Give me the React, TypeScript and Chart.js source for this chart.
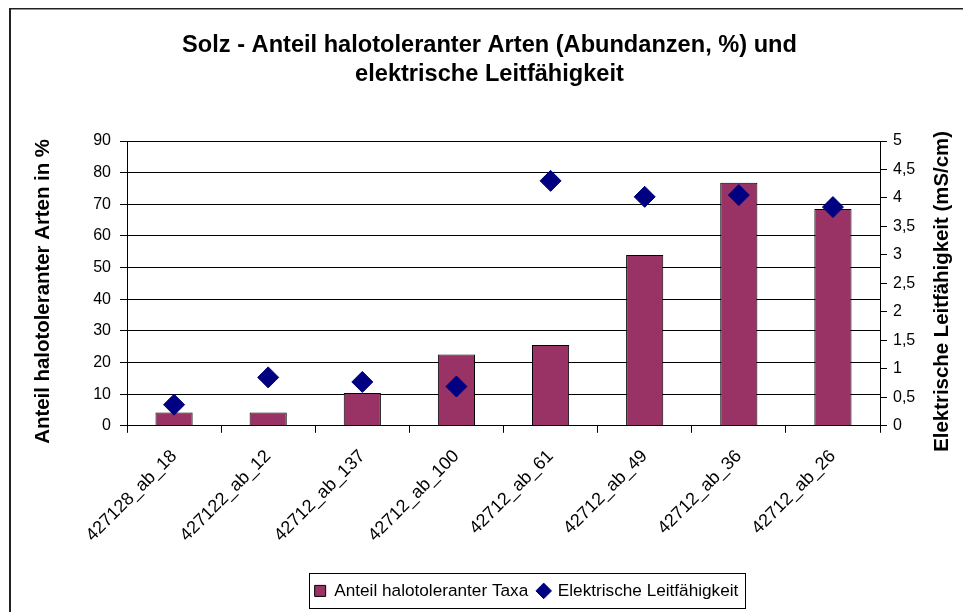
import React, { useEffect, useRef } from 'react';
import { Chart, registerables } from 'chart.js';

Chart.register(...registerables);

const categories = [
  '427128_ab_18',
  '427122_ab_12',
  '42712_ab_137',
  '42712_ab_100',
  '42712_ab_61',
  '42712_ab_49',
  '42712_ab_36',
  '42712_ab_26',
];
const halotolerantShare = [4.2, 4.2, 10.4, 22.5, 25.5, 54, 76.8, 68.5];
const conductivity = [0.37, 0.85, 0.77, 0.69, 4.3, 4.02, 4.05, 3.84];

const titleLines = ['Solz - Anteil halotoleranter Arten (Abundanzen, %) und', 'elektrische Leitfähigkeit'];
const leftAxisTitle = 'Anteil halotoleranter Arten in %';
const rightAxisTitle = 'Elektrische Leitfähigkeit (mS/cm)';
const barLabel = 'Anteil halotoleranter Taxa';
const pointLabel = 'Elektrische Leitfähigkeit';

const W = 963;
const H = 604;
const FONT = '"Liberation Sans", Arial, Helvetica, sans-serif';

export default function App() {
  const ref = useRef<HTMLCanvasElement>(null);

  useEffect(() => {
    document.documentElement.style.overflow = 'hidden';
    document.body.style.overflow = 'hidden';
    Chart.defaults.font.family = FONT;

    const decor = {
      id: 'decor',
      afterLayout(chart: any) {
        if (chart.legend) {
          chart.legend.left += 37;
          chart.legend.right += 37;
        }
      },
      beforeDraw(chart: any) {
        const c = chart.ctx;
        c.save();
        c.fillStyle = '#fff';
        c.fillRect(0, 0, chart.width, chart.height);
        c.fillStyle = '#222';
        c.fillRect(1, 0, 2, chart.height);
        c.fillRect(1, 0, chart.width, 1.5);
        c.restore();
      },
      afterDraw(chart: any) {
        const c = chart.ctx;
        const area = chart.chartArea;
        const midY = (area.top + area.bottom) / 2 + 8;
        c.save();
        c.fillStyle = '#000';
        c.font = 'bold 20.4px ' + FONT;
        c.textAlign = 'center';
        c.textBaseline = 'middle';
        c.translate(35, midY);
        c.rotate(-Math.PI / 2);
        c.fillText(leftAxisTitle, 0, 0);
        c.restore();
        c.save();
        c.fillStyle = '#000';
        c.font = 'bold 20.4px ' + FONT;
        c.textAlign = 'center';
        c.textBaseline = 'middle';
        c.translate(934, midY);
        c.rotate(-Math.PI / 2);
        c.fillText(rightAxisTitle, 0, 0);
        c.restore();

        const lg = chart.legend;
        if (!lg || !lg.legendHitBoxes || !lg.legendHitBoxes.length) return;
        const hbs = lg.legendHitBoxes;
        let l = Infinity, r = -Infinity;
        hbs.forEach((h: any) => {
          l = Math.min(l, h.left);
          r = Math.max(r, h.left + h.width);
        });
        const t = hbs[0].top - 9;
        const b = hbs[0].top + hbs[0].height + 9;
        c.save();
        c.strokeStyle = '#000';
        c.lineWidth = 1;
        c.strokeRect(Math.round(l - 6) + 0.5, Math.round(t) + 0.5, Math.round(r - l + 12), Math.round(b - t));
        c.restore();
      },
    };

    const chart = new Chart(ref.current!, {
      type: 'bar',
      data: {
        labels: categories,
        datasets: [
          {
            type: 'bar',
            label: barLabel,
            data: halotolerantShare,
            yAxisID: 'y',
            backgroundColor: '#993366',
            borderColor: '#000',
            borderWidth: 1,
            barPercentage: 0.395,
            categoryPercentage: 1,
            order: 2,
          } as any,
          {
            type: 'line',
            label: pointLabel,
            data: conductivity,
            yAxisID: 'y1',
            showLine: false,
            pointStyle: 'rectRot',
            pointRadius: 10.5,
            pointHoverRadius: 10.5,
            pointBackgroundColor: '#000080',
            pointBorderColor: '#000080',
            pointBorderWidth: 1,
            backgroundColor: '#000080',
            borderColor: '#000080',
            order: 1,
          } as any,
        ],
      },
      plugins: [decor],
      options: {
        responsive: false,
        animation: false,
        devicePixelRatio: 1,
        layout: { padding: { top: 0, left: 0, right: 0, bottom: 2.5 } },
        plugins: {
          tooltip: { enabled: false },
          title: {
            display: true,
            text: titleLines,
            color: '#000',
            font: { size: 23.6, weight: 'bold', lineHeight: 29 / 23.6 },
            padding: { top: 23, bottom: 52 },
          },
          legend: {
            display: true,
            position: 'bottom',
            labels: {
              color: '#000',
              font: { size: 17.2 },
              usePointStyle: true,
              boxWidth: 11,
              boxHeight: 11,
              padding: 10,
              sort: (a: any, b: any) => a.datasetIndex - b.datasetIndex,
              generateLabels: (ch: any) => {
                const items = (Chart.defaults.plugins.legend.labels as any).generateLabels(ch);
                return items.map((it: any) => {
                  if (it.datasetIndex === 0) {
                    return { ...it, pointStyle: 'rect', fillStyle: '#993366', strokeStyle: '#000', lineWidth: 1 };
                  }
                  return { ...it, pointStyle: 'rectRot', fillStyle: '#000080', strokeStyle: '#000080', lineWidth: 1 };
                });
              },
            },
          },
        },
        scales: {
          x: {
            offset: true,
            grid: { offset: true, drawOnChartArea: false, drawTicks: true, tickLength: 7, color: '#000' },
            border: { color: '#000', width: 1 },
            ticks: { autoSkip: false, maxRotation: 45, minRotation: 45, color: '#000', font: { size: 18 }, padding: 13 },
            afterFit: (s: any) => {
              s.height = 146.5;
            },
          },
          y: {
            position: 'left',
            min: 0,
            max: 90,
            ticks: { stepSize: 10, color: '#000', font: { size: 16 }, padding: 9 },
            grid: { color: '#000', tickLength: 7 },
            border: { color: '#000', width: 1 },
            afterFit: (s: any) => {
              s.width = 119;
            },
          },
          y1: {
            position: 'right',
            min: 0,
            max: 5,
            ticks: {
              stepSize: 0.5,
              color: '#000',
              font: { size: 16 },
              padding: 6,
              callback: (v: any) => String(v).replace('.', ','),
            },
            grid: { drawOnChartArea: false, color: '#000', tickLength: 7 },
            border: { color: '#000', width: 1 },
            afterFit: (s: any) => {
              s.width = 91;
            },
          },
        },
      } as any,
    });

    return () => chart.destroy();
  }, []);

  return <canvas ref={ref} width={W} height={H} style={{ display: 'block', width: W, height: H }} />;
}
